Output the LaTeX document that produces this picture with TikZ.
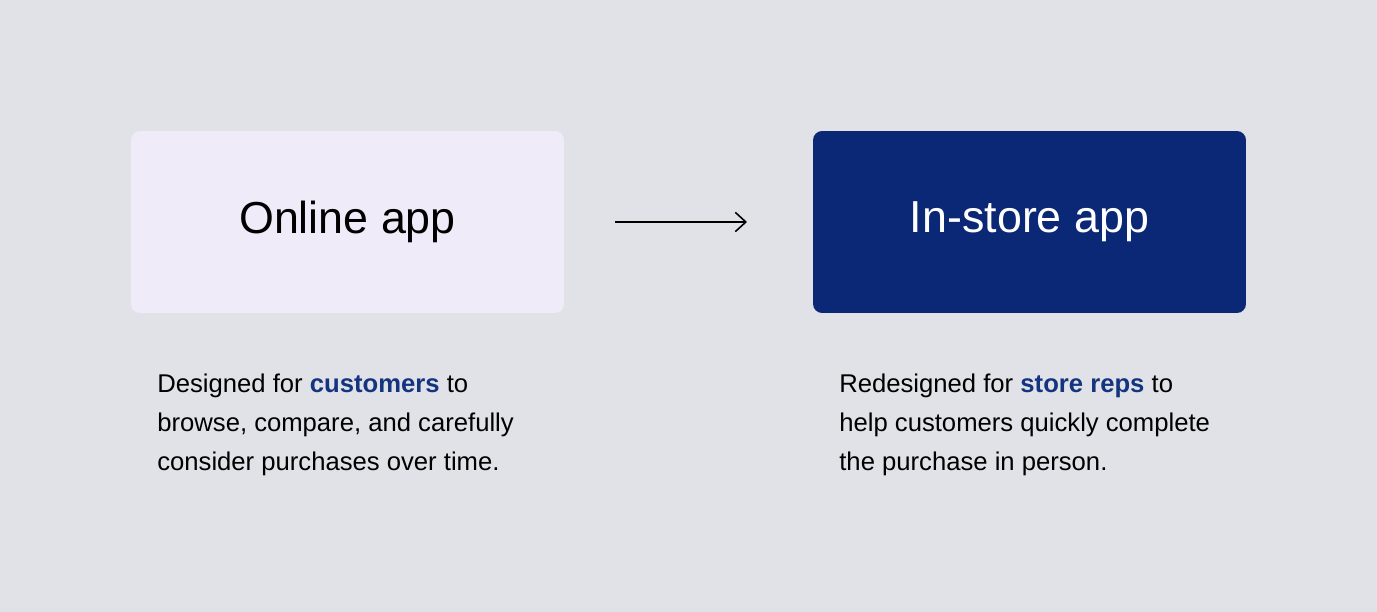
\documentclass[tikz,border=0pt]{standalone}
\usepackage{fontspec}
\setmainfont{Liberation Sans}
\usetikzlibrary{arrows.meta}
\definecolor{bg}{HTML}{E1E2E7}
\definecolor{lightbox}{HTML}{F0EBF8}
\definecolor{navy}{HTML}{0B2876}
\definecolor{hl}{HTML}{14347F}
\begin{document}
\begin{tikzpicture}[x=0.02cm,y=-0.02cm,
  box/.style={rounded corners=0.18cm,minimum width=8.66cm,minimum height=3.64cm,inner sep=0pt,font=\fontsize{25.5}{30}\selectfont},
  desc/.style={anchor=base west,align=left,inner sep=0pt,font=\fontsize{14.6}{22.1}\selectfont}]
\fill[bg] (0,0) rectangle (1377,612);
\node[box,fill=lightbox,text=black] (online) at (347.5,222) {\raisebox{-3pt}{Online app}};
\node[box,fill=navy,text=white] (instore) at (1029.5,222) {\raisebox{-3pt}{In-store app}};
\coordinate (a1) at (615,222);
\coordinate (a2) at (747,222);
\draw[line width=0.9pt,-{Straight Barb[length=6pt,width=11pt]}] (a1) -- (a2);
\node[desc] (d1) at (157,470) {Designed for \textbf{\color{hl}customers} to\\browse, compare, and carefully\\consider purchases over time.};
\node[desc] (d2) at (839,470) {Redesigned for \textbf{\color{hl}store reps} to\\help customers quickly complete\\the purchase in person.};
\end{tikzpicture}
\end{document}
